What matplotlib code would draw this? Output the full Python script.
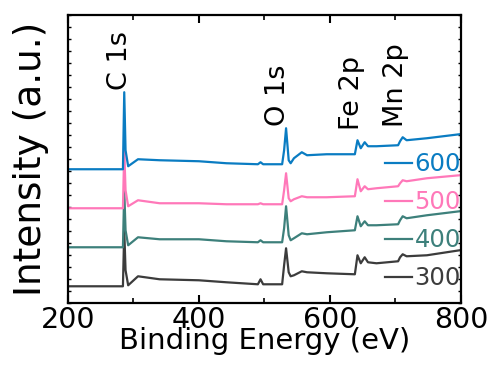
import matplotlib
matplotlib.use('Agg')
import matplotlib.pyplot as plt
from matplotlib.ticker import MultipleLocator, NullFormatter

# binding energy keypoints (eV)
energy = [200, 284, 286, 288, 292, 307, 340, 400, 442, 490, 494, 498, 527, 530, 533,
          537, 540, 545, 557, 565, 595, 638, 642, 647, 653, 658, 671, 704, 707, 711,
          717, 748, 798, 800]

# stacked intensities (a.u.)
i_300 = [17, 17, 73, 33, 18, 27, 24, 23, 21, 19, 24, 19, 19, 38, 55,
         31, 27, 28, 32, 31, 30, 29, 48, 40, 46, 41, 40, 42, 46, 49,
         47, 48, 53, 53]
i_400 = [56, 56, 113, 73, 58, 66, 64, 64, 62, 61, 63, 61, 61, 75, 97,
         68, 63, 65, 70, 69, 71, 73, 87, 77, 82, 78, 78, 79, 83, 87,
         85, 88, 92, 92]
i_500 = [95, 95, 153, 113, 97, 103, 100, 100, 99, 99, 100, 99, 99, 113, 130,
         105, 102, 104, 107, 106, 106, 107, 124, 112, 117, 114, 115, 117, 120, 123,
         122, 125, 128, 128]
i_600 = [134, 134, 211, 153, 137, 144, 143, 142, 140, 139, 141, 139, 139, 153, 175,
         143, 140, 145, 151, 148, 149, 149, 163, 155, 161, 157, 157, 158, 162, 166,
         163, 165, 169, 169]

series = ['300', '400', '500', '600']
colors = ['#3c3c3c', '#3d807b', '#ff78b9', '#0a7cc2']

# peak labels
peak_names = ['C 1s', 'O 1s', 'Fe 2p', 'Mn 2p']
peak_x = [279, 521, 634, 701]
peak_y = [213, 177, 173, 176]

fig = plt.figure(figsize=(4.92, 3.67), dpi=100)
ax = fig.add_axes([0.138, 0.1736, 0.799, 0.785])

for name, vals, c in zip(series, [i_300, i_400, i_500, i_600], colors):
    ax.plot(energy, vals, color=c, lw=1.6, label=name)

for name, x, y in zip(peak_names, peak_x, peak_y):
    ax.text(x, y, name, rotation=90, ha='center', va='bottom', fontsize=19.5)

ax.set_xlim(200, 800)
ax.set_ylim(0, 288)
ax.xaxis.set_major_locator(MultipleLocator(200))
ax.xaxis.set_minor_locator(MultipleLocator(100))
ax.yaxis.set_major_locator(MultipleLocator(12))
ax.yaxis.set_major_formatter(NullFormatter())
ax.tick_params(axis='x', which='major', direction='in', length=6, width=1.5,
               top=True, labelsize=20.5, pad=2)
ax.tick_params(axis='x', which='minor', direction='in', length=3.5, width=1.2, top=True)
ax.tick_params(axis='y', which='major', direction='in', length=2.5, width=1, right=True)
for s in ax.spines.values():
    s.set_linewidth(1.6)

ax.set_xlabel('Binding Energy (eV)', fontsize=21, labelpad=-5)
ax.set_ylabel('Intensity (a.u.)', fontsize=27, labelpad=10)

h, l = ax.get_legend_handles_labels()
ax.legend(h[::-1], l[::-1], loc='lower right', bbox_to_anchor=(1.0, 0.045),
          frameon=False, fontsize=17.5, handlelength=1.1, handletextpad=0.1,
          labelspacing=0.58, labelcolor='linecolor', borderpad=0, borderaxespad=0)

fig.savefig('out.png', dpi=100)
